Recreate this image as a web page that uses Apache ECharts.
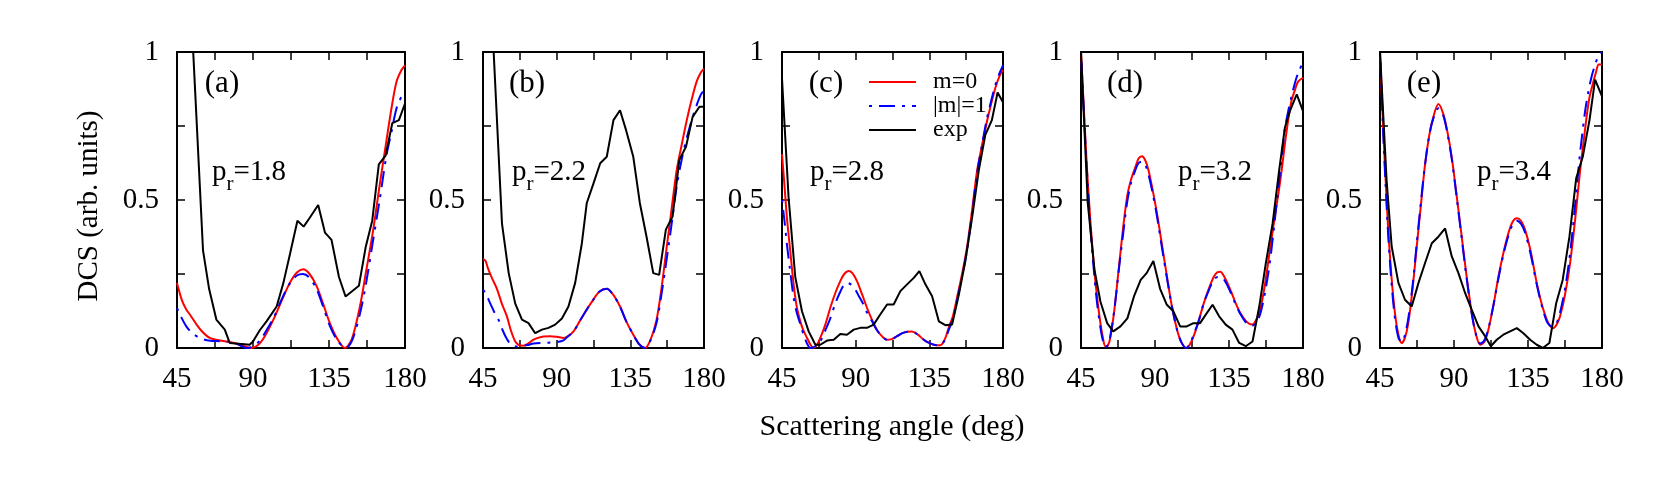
<!DOCTYPE html>
<html>
<head>
<meta charset="utf-8">
<script src="https://cdn.jsdelivr.net/npm/echarts@6/dist/echarts.min.js"></script>
<style>
  html, body { margin: 0; padding: 0; background: #fff; }
  #main { width: 1656px; height: 482px; }
</style>
</head>
<body>
<div id="main"></div>
<script>
// DCS vs scattering angle, five panels (a)-(e)
const panelTags = ['(a)', '(b)', '(c)', '(d)', '(e)']
const prValues = ['1.8', '2.2', '2.8', '3.2', '3.4']
const xTicks = [45, 90, 135, 180]
const yTicks = [0, 0.5, 1]

// panel (a) p_r = 1.8
const a_m0 = [[45,0.22],[48,0.16],[50.5,0.13],[53,0.11],[56.5,0.08],[60,0.055],[64.4,0.034],[69,0.027],[74,0.022],[78,0.018],[82,0.011],[86,0.004],[89,0],[93,0.01],[97,0.04],[102,0.095],[107,0.16],[111.8,0.22],[116,0.255],[119.7,0.266],[123.5,0.25],[127.6,0.21],[131.5,0.15],[135.5,0.084],[140,0.03],[144.4,0],[148.5,0.03],[153.3,0.14],[157,0.26],[161.2,0.4],[165,0.55],[169,0.7],[172,0.81],[175,0.9],[178,0.94],[180,0.955]]
const a_m1 = [[45,0.135],[47,0.11],[50.5,0.073],[54,0.05],[58.5,0.034],[62,0.027],[66,0.024],[70,0.023],[74,0.022],[78,0.02],[82,0.01],[86,0],[90,0.005],[94,0.025],[98,0.06],[102,0.1],[107,0.165],[112,0.22],[116,0.245],[119.5,0.25],[123,0.24],[127.6,0.2],[131.5,0.14],[135.5,0.075],[140,0.025],[145,0],[149,0.03],[153.5,0.12],[157,0.22],[161,0.36],[165,0.5],[169,0.65],[172,0.73],[175,0.81],[178,0.85],[180,0.865]]
const a_exp = [[45,2.5],[52,1.3],[60.4,0.33],[64,0.2],[68.3,0.096],[73.3,0.062],[76.2,0.017],[82,0.014],[88,0.011],[90,0.022],[94,0.06],[98,0.09],[104,0.14],[108,0.22],[112,0.32],[116.3,0.43],[120,0.41],[123.6,0.44],[128.6,0.483],[132.6,0.39],[136.5,0.365],[140.9,0.24],[144.8,0.174],[152.7,0.21],[156.7,0.34],[160.6,0.43],[164.5,0.62],[168.5,0.65],[172.5,0.76],[176.4,0.77],[180,0.826]]

// panel (b) p_r = 2.2
const b_m0 = [[45,0.3],[46.5,0.295],[48,0.27],[50.5,0.236],[53.5,0.2],[56.5,0.15],[59.6,0.107],[62,0.06],[64.7,0.022],[67,0.01],[69.8,0.008],[72.5,0.015],[75.9,0.028],[79,0.035],[82,0.039],[86,0.04],[90,0.038],[94.2,0.034],[97,0.04],[100.3,0.056],[104,0.09],[108.4,0.13],[112,0.16],[116,0.19],[120.6,0.2],[124.5,0.18],[128.7,0.14],[132.5,0.09],[136.8,0.045],[140.5,0.012],[144,0],[147.5,0.03],[151,0.095],[154,0.2],[157.2,0.34],[160,0.46],[163.3,0.6],[166.5,0.69],[169.5,0.77],[172.5,0.84],[175.5,0.9],[178,0.93],[180,0.944]]
const b_m1 = [[45,0.197],[47,0.18],[49.5,0.15],[52,0.12],[54.5,0.095],[57,0.06],[59.6,0.03],[62,0.012],[65,0.005],[68,0.006],[72,0.01],[76,0.015],[80,0.017],[85,0.018],[90,0.02],[94.2,0.026],[97,0.04],[100.3,0.056],[104,0.09],[108.4,0.13],[112,0.16],[116,0.19],[120.6,0.2],[124.5,0.18],[128.7,0.14],[132.5,0.09],[136.8,0.045],[140.5,0.012],[144,0],[147.5,0.028],[151,0.085],[154,0.18],[157.2,0.3],[160,0.41],[163.3,0.545],[166.5,0.64],[169.5,0.71],[172.5,0.77],[175.5,0.82],[178,0.855],[180,0.87]]
const b_exp = [[45,2.2],[48,1.4],[56.6,0.42],[60.7,0.253],[64.7,0.15],[68.8,0.096],[72.8,0.084],[76.9,0.05],[81,0.062],[85,0.068],[89.1,0.079],[93.2,0.1],[97.2,0.14],[101.3,0.22],[105.4,0.354],[108.4,0.49],[112.5,0.556],[116.6,0.624],[120.6,0.646],[124.7,0.77],[128.7,0.803],[132.4,0.736],[136.8,0.646],[140.8,0.49],[144.9,0.376],[149,0.253],[152.6,0.247],[156.7,0.4],[160.8,0.444],[164.9,0.635],[169,0.68],[173,0.78],[177.2,0.815],[180,0.815]]

// panel (c) p_r = 2.8
const c_m0 = [[45,0.655],[46.5,0.55],[48,0.44],[50,0.33],[52.1,0.215],[54,0.14],[56.2,0.09],[58,0.06],[60.3,0.034],[62.5,0.01],[64.3,0],[66.3,0.01],[68.4,0.034],[71.5,0.08],[74.5,0.136],[77.5,0.185],[80.6,0.226],[83,0.25],[85.7,0.26],[88,0.253],[90.8,0.226],[94,0.18],[96.9,0.136],[100,0.095],[103,0.062],[106,0.04],[109.2,0.028],[112,0.03],[115.3,0.04],[118.5,0.05],[121.5,0.055],[124.4,0.056],[128,0.045],[131.6,0.028],[134.5,0.018],[137.7,0.011],[141.7,0.009],[144.5,0.03],[146.8,0.068],[149.5,0.11],[151.9,0.17],[155,0.25],[158,0.34],[161,0.46],[164.2,0.6],[167,0.68],[170,0.76],[173,0.83],[175.7,0.885],[178,0.92],[180,0.94]]
const c_m1 = [[45,0.5],[46.5,0.43],[48,0.35],[50,0.26],[52.1,0.17],[54,0.12],[56.2,0.08],[58.5,0.04],[60.3,0.015],[62.3,0],[64.3,0.003],[66.3,0.01],[68.4,0.022],[71.5,0.06],[74.5,0.1],[77.5,0.15],[80.6,0.19],[82.5,0.21],[84.7,0.22],[87,0.215],[89.5,0.2],[92,0.175],[94.5,0.15],[96.9,0.12],[100,0.09],[103,0.06],[106,0.04],[109.2,0.028],[112,0.03],[115.3,0.04],[118.5,0.05],[121.5,0.055],[124.4,0.056],[128,0.045],[131.6,0.028],[134.5,0.018],[137.7,0.011],[141.7,0.009],[144.5,0.028],[146.8,0.06],[149.5,0.1],[151.9,0.16],[155,0.24],[158,0.33],[161,0.45],[164.2,0.59],[167,0.68],[170,0.77],[173,0.84],[175.7,0.895],[178,0.93],[180,0.955]]
const c_exp = [[45,0.91],[49,0.51],[53.1,0.24],[57.2,0.124],[61.3,0.056],[65.4,0.011],[68.4,0.011],[72.5,0.025],[76.6,0.028],[80.6,0.047],[84.7,0.045],[88.8,0.062],[92.9,0.068],[96.9,0.068],[101,0.079],[105,0.113],[109.2,0.147],[113.2,0.147],[117.3,0.192],[121.4,0.215],[125.5,0.237],[128.9,0.26],[132.6,0.215],[136.7,0.175],[140.8,0.09],[144.8,0.077],[148.9,0.079],[153,0.18],[157,0.294],[161.1,0.44],[165.2,0.6],[169.2,0.72],[173.2,0.77],[176.7,0.863],[180,0.83]]

// panel (d) p_r = 3.2
const d_m0 = [[45,1],[46.8,0.8],[48.7,0.6],[50.7,0.43],[52.7,0.287],[54.8,0.17],[56.8,0.084],[58.3,0.035],[59.8,0.006],[61.3,0.008],[62.8,0.034],[65.3,0.13],[67.9,0.264],[70.5,0.4],[73,0.51],[75.5,0.57],[78,0.61],[80,0.64],[82.1,0.648],[84,0.635],[86.1,0.6],[88.7,0.53],[91.2,0.455],[94.2,0.35],[97.3,0.24],[100.3,0.14],[103.4,0.062],[106,0.02],[109,0],[111,0.01],[113.5,0.04],[116.5,0.09],[119.6,0.15],[122.7,0.2],[125.7,0.24],[127.7,0.255],[129.7,0.258],[132.7,0.235],[135.8,0.197],[138.8,0.155],[141.9,0.118],[145.5,0.09],[149,0.079],[151.5,0.095],[154,0.13],[157,0.22],[160.1,0.34],[163,0.45],[165,0.52],[167,0.6],[169,0.69],[171,0.77],[173,0.835],[175,0.87],[177,0.9],[180,0.913]]
const d_m1 = [[45,1],[46.8,0.79],[48.7,0.59],[50.7,0.41],[52.7,0.27],[54.8,0.15],[56.8,0.07],[58.3,0.025],[59.8,0.003],[61.3,0.01],[62.8,0.04],[65.3,0.13],[67.9,0.26],[70.5,0.38],[73,0.49],[75.5,0.56],[78,0.6],[80,0.625],[82.1,0.63],[84,0.62],[86.1,0.585],[88.7,0.52],[91.2,0.445],[94.2,0.34],[97.3,0.235],[100.3,0.14],[103.4,0.062],[106,0.02],[109,0],[111,0.012],[113.5,0.045],[116.5,0.09],[119.6,0.15],[122.7,0.195],[125.7,0.23],[128,0.24],[130,0.24],[132.7,0.225],[135.8,0.19],[138.8,0.15],[141.9,0.115],[145.5,0.085],[149,0.075],[151.5,0.085],[154,0.115],[157,0.19],[160.1,0.3],[163,0.44],[166,0.59],[169,0.74],[171,0.8],[173,0.85],[176,0.913],[178,0.94],[180,0.97]]
const d_exp = [[45,1],[49.1,0.49],[53.2,0.264],[56.8,0.157],[60.9,0.084],[64.6,0.056],[69,0.073],[73.2,0.1],[77.2,0.174],[81.3,0.23],[84.9,0.253],[89,0.294],[93.1,0.2],[97.2,0.146],[101.2,0.124],[105.3,0.073],[109.3,0.073],[113.4,0.084],[117.4,0.084],[121.5,0.118],[125,0.146],[129,0.107],[133,0.079],[137.1,0.062],[141.2,0.017],[145.2,0.006],[149.3,0.022],[153.4,0.14],[157.4,0.287],[161.5,0.42],[165.5,0.6],[169,0.745],[172,0.8],[176.2,0.857],[180,0.8]]

// panel (e) p_r = 3.4
const e_m0 = [[45,1],[47,0.736],[48.5,0.56],[50,0.4],[52,0.24],[54.1,0.118],[56.2,0.045],[58.2,0.017],[60.2,0.035],[62.2,0.084],[64.8,0.2],[67.3,0.34],[70,0.49],[72.4,0.62],[75,0.72],[77.4,0.78],[80.5,0.824],[83.5,0.79],[86,0.73],[88.6,0.646],[91.5,0.52],[94.7,0.376],[97.7,0.24],[100.8,0.118],[103.4,0.045],[105.9,0.011],[108.4,0.02],[110.9,0.062],[114,0.145],[117,0.24],[120,0.32],[123.1,0.388],[125.5,0.425],[128.2,0.438],[130.7,0.43],[133.2,0.4],[136.5,0.33],[140.3,0.22],[143.5,0.145],[146.4,0.096],[148.4,0.075],[150.4,0.067],[152.5,0.08],[154.5,0.107],[157.5,0.18],[160.6,0.287],[163.6,0.43],[166.7,0.6],[168,0.66],[170.7,0.784],[172.5,0.85],[174.6,0.896],[176.5,0.935],[178,0.958],[180,0.958]]
const e_m1 = [[45,1],[47,0.72],[48.5,0.54],[50,0.38],[52,0.22],[54.1,0.1],[56.2,0.035],[58.2,0.02],[60.2,0.045],[62.2,0.1],[64.8,0.21],[67.3,0.35],[70,0.5],[72.4,0.62],[75,0.72],[77.4,0.775],[80.5,0.81],[83.5,0.785],[86,0.725],[88.6,0.64],[91.5,0.515],[94.7,0.37],[97.7,0.235],[100.8,0.115],[103.4,0.045],[105.9,0.015],[108.4,0.025],[110.9,0.065],[114,0.145],[117,0.235],[120,0.315],[123.1,0.38],[125.5,0.415],[128.2,0.43],[130.7,0.42],[133.2,0.39],[136.5,0.32],[140.3,0.215],[143.5,0.14],[146.4,0.09],[148.4,0.075],[150.4,0.07],[152.5,0.085],[154.5,0.12],[157.5,0.2],[160.6,0.32],[163.6,0.48],[166.5,0.65],[169.6,0.795],[171.5,0.86],[173.8,0.92],[176,0.96],[178,0.99],[180,1]]
const e_exp = [[45,1],[49,0.567],[52.1,0.343],[56.2,0.22],[60.2,0.163],[64.3,0.14],[68.4,0.22],[72.4,0.287],[76.5,0.354],[80.5,0.376],[84.6,0.404],[88.6,0.31],[92.7,0.253],[96.8,0.185],[100.8,0.129],[104.9,0.073],[108.9,0.04],[112.4,0.006],[116,0.028],[120,0.045],[124.1,0.056],[128.2,0.067],[132.2,0.05],[136.3,0.028],[140.3,0.011],[144,0],[148,0.017],[152.1,0.15],[156.1,0.23],[160.2,0.376],[164.3,0.573],[168.3,0.646],[172.4,0.77],[175.8,0.907],[180,0.85]]

const theoryM0 = [a_m0, b_m0, c_m0, d_m0, e_m0]
const theoryM1 = [a_m1, b_m1, c_m1, d_m1, e_m1]
const expData = [a_exp, b_exp, c_exp, d_exp, e_exp]

// layout (px)
const gridLeft = [177, 483, 782, 1081, 1380]
const gridWidth = [228, 221, 221, 222, 222]
const gridTop = 52
const gridHeight = 296
const tagX = [222, 527, 826, 1125, 1424]
const prX = [212, 512, 810, 1178, 1477]

const FONT = '"Liberation Serif", "Times New Roman", serif'

const chart = echarts.init(document.getElementById('main'), null, { renderer: 'canvas' })

const grids = []
const xAxes = []
const yAxes = []
const series = []
const graphics = []

function xAxisCfg (i, pos) {
  return {
    gridIndex: i,
    type: 'value',
    position: pos,
    min: 45,
    max: 180,
    interval: 22.5,
    axisLine: { show: true, onZero: false, lineStyle: { color: '#000', width: 2 } },
    axisTick: { show: true, inside: true, length: 8, lineStyle: { color: '#000', width: 1.5 } },
    axisLabel: {
      show: pos === 'bottom',
      margin: 17,
      showMinLabel: true,
      showMaxLabel: true,
      fontFamily: FONT,
      fontSize: 29,
      color: '#000',
      formatter: v => (xTicks.indexOf(v) >= 0 ? String(v) : '')
    },
    splitLine: { show: false }
  }
}

function yAxisCfg (i, pos) {
  return {
    gridIndex: i,
    type: 'value',
    position: pos,
    min: 0,
    max: 1,
    interval: 0.25,
    axisLine: { show: true, onZero: false, lineStyle: { color: '#000', width: 2 } },
    axisTick: { show: true, inside: true, length: 8, lineStyle: { color: '#000', width: 1.5 } },
    axisLabel: {
      show: pos === 'left',
      margin: 18,
      showMinLabel: true,
      showMaxLabel: true,
      fontFamily: FONT,
      fontSize: 29,
      color: '#000',
      formatter: v => (yTicks.indexOf(v) >= 0 ? String(v) : '')
    },
    splitLine: { show: false }
  }
}

for (let i = 0; i < 5; i++) {
  grids.push({
    left: gridLeft[i],
    top: gridTop,
    width: gridWidth[i],
    height: gridHeight,
    containLabel: false,
    outerBoundsMode: 'none'
  })
  xAxes.push(xAxisCfg(i, 'bottom'))
  xAxes.push(xAxisCfg(i, 'top'))
  yAxes.push(yAxisCfg(i, 'left'))
  yAxes.push(yAxisCfg(i, 'right'))

  series.push({
    name: 'm=0',
    type: 'line',
    xAxisIndex: 2 * i,
    yAxisIndex: 2 * i,
    data: theoryM0[i],
    symbol: 'none',
    smooth: 0.3,
    clip: true,
    lineStyle: { color: '#ff0000', width: 2 },
    itemStyle: { color: '#ff0000' },
    z: 2
  })
  series.push({
    name: '|m|=1',
    type: 'line',
    xAxisIndex: 2 * i,
    yAxisIndex: 2 * i,
    data: theoryM1[i],
    symbol: 'none',
    smooth: 0.3,
    clip: true,
    lineStyle: { color: '#0000ff', width: 2, type: [16, 7, 3, 7], dashOffset: 23 },
    itemStyle: { color: '#0000ff' },
    z: 3
  })
  series.push({
    name: 'exp',
    type: 'line',
    xAxisIndex: 2 * i,
    yAxisIndex: 2 * i,
    data: expData[i],
    symbol: 'none',
    clip: true,
    lineStyle: { color: '#000', width: 2 },
    itemStyle: { color: '#000' },
    z: 4
  })

  graphics.push({
    type: 'text',
    x: tagX[i],
    y: 84,
    style: { text: panelTags[i], font: '31px ' + FONT, fill: '#000', textAlign: 'center', textVerticalAlign: 'middle' }
  })
  graphics.push({
    type: 'text',
    x: prX[i],
    y: 172,
    style: {
      text: '{a|p}{s|r}{a|=' + prValues[i] + '}',
      textAlign: 'left',
      textVerticalAlign: 'middle',
      rich: {
        a: { fontFamily: FONT, fontSize: 29, fill: '#000' },
        s: { fontFamily: FONT, fontSize: 21, fill: '#000', padding: [24, 0, 0, 0] }
      }
    }
  })
}

graphics.push({
  type: 'text',
  x: 89,
  y: 206,
  rotation: Math.PI / 2,
  style: { text: 'DCS (arb. units)', font: '29px ' + FONT, fill: '#000', textAlign: 'center', textVerticalAlign: 'middle' }
})
graphics.push({
  type: 'text',
  x: 892,
  y: 427,
  style: { text: 'Scattering angle (deg)', font: '30px ' + FONT, fill: '#000', textAlign: 'center', textVerticalAlign: 'middle' }
})

chart.setOption({
  backgroundColor: '#fff',
  animation: false,
  grid: grids,
  xAxis: xAxes,
  yAxis: yAxes,
  legend: {
    orient: 'vertical',
    left: 863,
    top: 65,
    itemWidth: 47,
    itemHeight: 14,
    itemGap: 0,
    selectedMode: false,
    itemStyle: { opacity: 0, borderWidth: 0 },
    data: ['m=0', '|m|=1', 'exp'],
    textStyle: { fontFamily: FONT, fontSize: 24, color: '#000', lineHeight: 21.5, padding: [0, 0, 0, 12] }
  },
  graphic: graphics,
  series: series
})
</script>
</body>
</html>
